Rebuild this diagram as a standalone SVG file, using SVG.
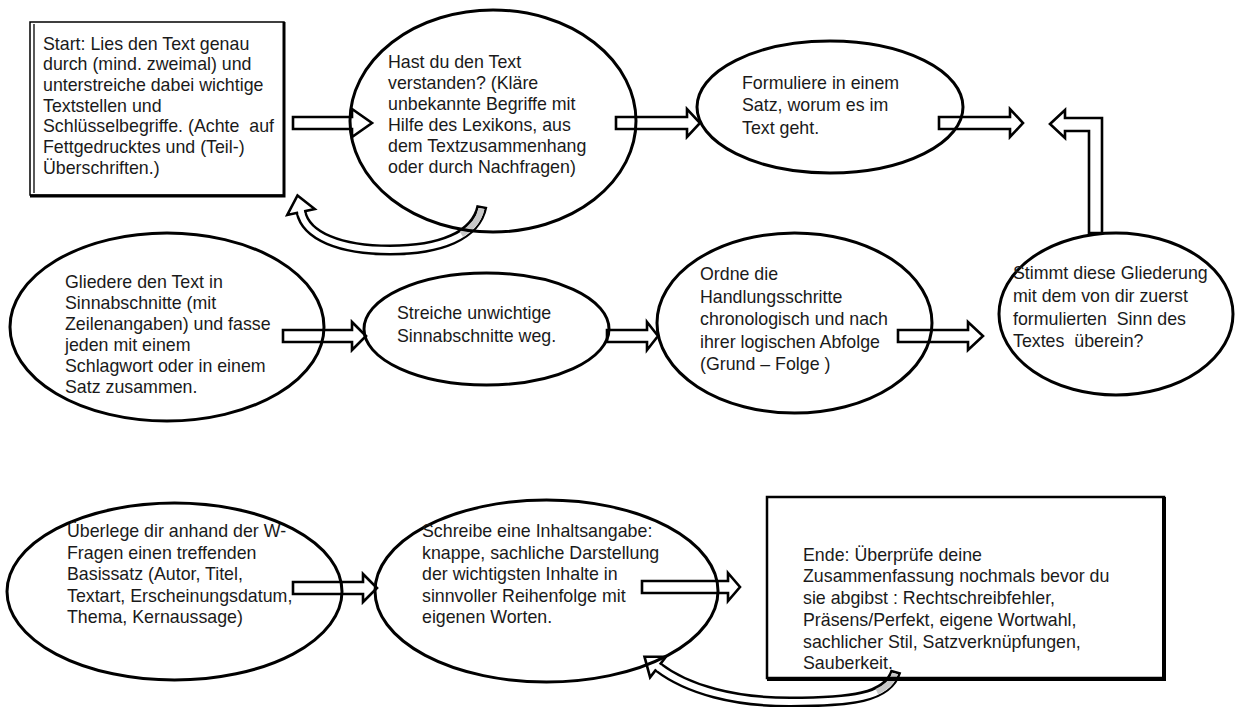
<svg xmlns="http://www.w3.org/2000/svg" width="1238" height="707" viewBox="0 0 1238 707">
<style>
.t{font-family:"Liberation Sans",Arial,sans-serif;font-size:17.8px;fill:#1a1a1a;white-space:pre}
.el{fill:none;stroke:#000;stroke-width:3}
.ar{fill:#fff;stroke:#000;stroke-width:2.6;stroke-linejoin:miter}
.bandO{fill:none;stroke:#000;stroke-width:11}
.bandI{fill:none;stroke:#fff;stroke-width:6}
.bandG{fill:none;stroke:#c8c8c8;stroke-width:6}
</style>
<rect width="1238" height="707" fill="#fff"/>
<g id="connectors">
<path class="ar" d="M293,117 H352 V109 L372,123 L352,137 V129 H293 Z"/>
<path class="ar" d="M616,117 H687 V109 L700,123 L687,137 V129 H616 Z"/>
<path class="ar" d="M939,117 H1010 V109 L1023,123 L1010,137 V129 H939 Z"/>
<path class="ar" d="M1050,124 L1065,110 V118 H1102 V233 H1089 V131 H1065 V138 Z"/>
<path class="ar" d="M283,330 H352 V322 L366,336 L352,350 V342 H283 Z"/>
<path class="ar" d="M607,330 H647 V322 L658,336 L647,350 V342 H607 Z"/>
<path class="ar" d="M898,330 H968 V322 L983,336 L968,350 V342 H898 Z"/>
<path class="ar" d="M293,582 H363 V574 L377,588 L363,602 V594 H293 Z"/>
<path class="ar" d="M642,581 H728 V573 L740,587 L728,601 V593 H642 Z"/>
<g id="curved-a">
<path class="bandO" d="M482,206 C476,236 440,250 390,250 C340,250 306,236 301,212"/>
<path class="bandI" d="M481.5,208.5 C476,236 440,250 390,250 C340,250 306,236 301,212"/>
<path class="bandG" d="M481.5,208.5 C479.6,218 472.4,227.4 461.4,234.4"/>
<path class="ar" d="M287.3,214.9 L297.5,195.4 L314.7,209.1 Z"/>
<path d="M301.6,215 L300.6,209" stroke="#fff" stroke-width="6"/>
</g>
<g id="curved-b">
<path class="bandO" d="M896,671 C888,698 850,702 790,702 C735,702 688,690 658,667"/>
<path class="bandI" d="M895,673.5 C888,698 850,702 790,702 C735,702 688,690 658,667"/>
<path class="bandG" d="M895,673.5 C893.2,680.45 886.7,687.1 876.9,691.7"/>
<path class="ar" d="M650.1,677.3 L644.5,656.7 L665.9,656.7 Z"/>
<path d="M660,668.5 L655.6,665.2" stroke="#fff" stroke-width="6"/>
</g>
</g>
<g id="n-start">
<rect x="30" y="22" width="254" height="173" fill="none" stroke="#000" stroke-width="1.5"/>
<line x1="34" y1="24" x2="34" y2="193" stroke="#000" stroke-width="1.3"/>
<path d="M284,22 V196 H30" fill="none" stroke="#000" stroke-width="3"/>
<text class="t"><tspan x="43" y="49.5">Start: Lies den Text genau</tspan><tspan x="43" y="70.2">durch (mind. zweimal) und</tspan><tspan x="43" y="91">unterstreiche dabei wichtige</tspan><tspan x="43" y="111.7">Textstellen und</tspan><tspan x="43" y="132.4">Schlüsselbegriffe. (Achte  auf</tspan><tspan x="43" y="153.1">Fettgedrucktes und (Teil-)</tspan><tspan x="43" y="173.8">Überschriften.)</tspan></text>
</g>
<g id="n-verstanden">
<ellipse class="el" cx="493" cy="121" rx="143" ry="111"/>
<text class="t"><tspan x="388" y="68">Hast du den Text</tspan><tspan x="388" y="89">verstanden? (Kläre</tspan><tspan x="388" y="110">unbekannte Begriffe mit</tspan><tspan x="388" y="131">Hilfe des Lexikons, aus</tspan><tspan x="388" y="152">dem Textzusammenhang</tspan><tspan x="388" y="173">oder durch Nachfragen)</tspan></text>
</g>
<g id="n-formuliere">
<ellipse class="el" cx="830" cy="107" rx="133" ry="66"/>
<text class="t"><tspan x="742" y="88.5">Formuliere in einem</tspan><tspan x="742" y="111">Satz, worum es im</tspan><tspan x="742" y="133.5">Text geht.</tspan></text>
</g>
<g id="n-stimmt">
<ellipse class="el" cx="1116" cy="314" rx="117" ry="81"/>
<text class="t"><tspan x="1013" y="279">Stimmt diese Gliederung</tspan><tspan x="1013" y="302">mit dem von dir zuerst</tspan><tspan x="1013" y="325">formulierten  Sinn des</tspan><tspan x="1013" y="347">Textes  überein?</tspan></text>
</g>
<g id="n-gliedere">
<ellipse class="el" cx="167" cy="327" rx="157" ry="94"/>
<text class="t"><tspan x="65" y="288.3">Gliedere den Text in</tspan><tspan x="65" y="309.3">Sinnabschnitte (mit</tspan><tspan x="65" y="330.3">Zeilenangaben) und fasse</tspan><tspan x="65" y="351.3">jeden mit einem</tspan><tspan x="65" y="372.3">Schlagwort oder in einem</tspan><tspan x="65" y="393.3">Satz zusammen.</tspan></text>
</g>
<g id="n-streiche">
<ellipse class="el" cx="486.5" cy="329" rx="122.5" ry="56"/>
<text class="t"><tspan x="397" y="319">Streiche unwichtige</tspan><tspan x="397" y="342">Sinnabschnitte weg.</tspan></text>
</g>
<g id="n-ordne">
<ellipse class="el" cx="794.5" cy="323" rx="137.5" ry="90"/>
<text class="t"><tspan x="700" y="280">Ordne die</tspan><tspan x="700" y="302.5">Handlungsschritte</tspan><tspan x="700" y="325">chronologisch und nach</tspan><tspan x="700" y="347.5">ihrer logischen Abfolge</tspan><tspan x="700" y="370">(Grund – Folge )</tspan></text>
</g>
<g id="n-ueberlege">
<ellipse class="el" cx="174.5" cy="591.5" rx="167.5" ry="88.5"/>
<text class="t"><tspan x="67" y="537">Überlege dir anhand der W-</tspan><tspan x="67" y="558.5">Fragen einen treffenden</tspan><tspan x="67" y="580">Basissatz (Autor, Titel,</tspan><tspan x="67" y="601.5">Textart, Erscheinungsdatum,</tspan><tspan x="67" y="623">Thema, Kernaussage)</tspan></text>
</g>
<g id="n-schreibe">
<ellipse class="el" cx="546.5" cy="591" rx="171.5" ry="91"/>
<text class="t"><tspan x="422" y="537">Schreibe eine Inhaltsangabe:</tspan><tspan x="422" y="558.5">knappe, sachliche Darstellung</tspan><tspan x="422" y="580">der wichtigsten Inhalte in</tspan><tspan x="422" y="601.5">sinnvoller Reihenfolge mit</tspan><tspan x="422" y="623">eigenen Worten.</tspan></text>
</g>
<g id="n-ende">
<rect x="767" y="497" width="397" height="181" fill="none" stroke="#000" stroke-width="2.5"/>
<path d="M1164,497 V679 H767" fill="none" stroke="#000" stroke-width="4"/>
<text class="t"><tspan x="803" y="561">Ende: Überprüfe deine</tspan><tspan x="803" y="582">Zusammenfassung nochmals bevor du</tspan><tspan x="803" y="604">sie abgibst : Rechtschreibfehler,</tspan><tspan x="803" y="626">Präsens/Perfekt, eigene Wortwahl,</tspan><tspan x="803" y="648">sachlicher Stil, Satzverknüpfungen,</tspan><tspan x="803" y="669">Sauberkeit.</tspan></text>
</g>
</svg>
